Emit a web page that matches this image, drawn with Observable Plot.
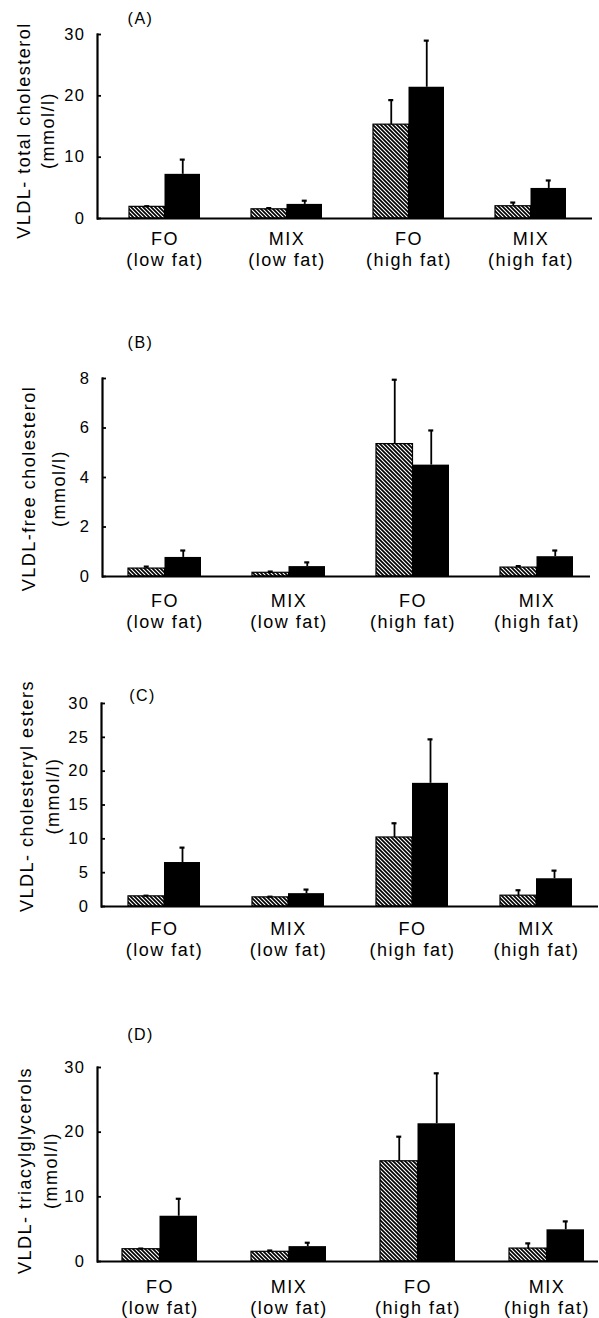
<!DOCTYPE html>
<html><head><meta charset="utf-8">
<script src="https://cdn.jsdelivr.net/npm/d3@7"></script>
<script src="https://cdn.jsdelivr.net/npm/@observablehq/plot@0.6"></script>
<style>
body{margin:0;background:#fff;}
#chart{position:relative;width:599px;height:1318px;overflow:hidden;background:#fff;}
#chart svg{position:absolute;left:0;}
</style></head><body>
<svg width="0" height="0" style="position:absolute"><defs>
<pattern id="hatch" patternUnits="userSpaceOnUse" width="4" height="4">
<rect width="4" height="4" fill="white"/>
<path d="M-1,-1L5,5M-1,3L1,5M3,-1L5,1" stroke="black" stroke-width="1.7"/>
</pattern></defs></svg>
<div id="chart"></div>
<script>
// ---- data ----
const groups = ["FO (low fat)", "MIX (low fat)", "FO (high fat)", "MIX (high fat)"];
const groupLabels = ["FO\n(low fat)", "MIX\n(low fat)", "FO\n(high fat)", "MIX\n(high fat)"];
const panelLetters = ["(A)", "(B)", "(C)", "(D)"];
const yLabels = [
  "VLDL- total cholesterol\n(mmol/l)",
  "VLDL-free cholesterol\n(mmol/l)",
  "VLDL- cholesteryl esters\n(mmol/l)",
  "VLDL- triacylglycerols\n(mmol/l)"
];
const yTicksA = [0, 10, 20, 30];
const yTicksB = [0, 2, 4, 6, 8];
const yTicksC = [0, 5, 10, 15, 20, 25, 30];
const yTicksD = [0, 10, 20, 30];

const hatchedA = [1.9, 1.5, 15.3, 2.0];
const hatchedErrA = [0.1, 0.2, 4.0, 0.6];
const blackA = [7.2, 2.3, 21.4, 4.9];
const blackErrA = [2.4, 0.6, 7.6, 1.3];

const hatchedB = [0.32, 0.15, 5.35, 0.36];
const hatchedErrB = [0.08, 0.05, 2.6, 0.06];
const blackB = [0.77, 0.4, 4.5, 0.8];
const blackErrB = [0.28, 0.17, 1.4, 0.25];

const hatchedC = [1.5, 1.35, 10.2, 1.6];
const hatchedErrC = [0.1, 0.1, 2.1, 0.8];
const blackC = [6.5, 1.9, 18.2, 4.1];
const blackErrC = [2.2, 0.6, 6.5, 1.2];

const hatchedD = [1.9, 1.5, 15.5, 2.0];
const hatchedErrD = [0.1, 0.2, 3.8, 0.8];
const blackD = [7.0, 2.3, 21.3, 4.9];
const blackErrD = [2.7, 0.6, 7.8, 1.3];

// ---- layout ----
const W = 599;
const panels = [
  {top: 0,   height: 300, mt: 34,  mb: 82, ml: 97,  mr: 7, L: 128, R: 566, w: 71,
   ticks: yTicksA, h: hatchedA, he: hatchedErrA, b: blackA, be: blackErrA,
   labDx: -63, labDy: 4, labLH: 1.35, letDx: 43, letDy: -16, xPad: 12},
  {top: 300, height: 330, mt: 78,  mb: 54, ml: 102, mr: 9, L: 127, R: 574, w: 73,
   ticks: yTicksB, h: hatchedB, he: hatchedErrB, b: blackB, be: blackErrB,
   labDx: -62, labDy: 11, labLH: 1.65, letDx: 38, letDy: -36, xPad: 16},
  {top: 630, height: 330, mt: 73,  mb: 54, ml: 101, mr: 1, L: 127, R: 572, w: 72,
   ticks: yTicksC, h: hatchedC, he: hatchedErrC, b: blackC, be: blackErrC,
   labDx: -63.5, labDy: -9, labLH: 1.4, letDx: 41, letDy: -8, xPad: 14},
  {top: 960, height: 358, mt: 107, mb: 57, ml: 97,  mr: 1, L: 122, R: 584, w: 75,
   ticks: yTicksD, h: hatchedD, he: hatchedErrD, b: blackD, be: blackErrD,
   labDx: -61.5, labDy: 6, labLH: 1.45, letDx: 43, letDy: -33, xPad: 17}
];

const chart = document.getElementById("chart");
panels.forEach((p, k) => {
  const x0 = p.ml, x1 = W - p.mr, n = groups.length;
  const step = (p.R - p.L - p.w) / (n - 1);
  const pi = 1 - p.w / step;
  const po = Math.max(0, ((x1 - x0) / step - (n - pi)) / 2);
  const align = (p.L - x0) / ((x1 - x0) - step * (n - pi));
  const w = p.w;
  const hatched = groups.map((g, i) => ({group: g, v: p.h[i], e: p.he[i]}));
  const black = groups.map((g, i) => ({group: g, v: p.b[i], e: p.be[i]}));
  const ymax = p.ticks[p.ticks.length - 1];
  const svg = Plot.plot({
    width: W, height: p.height,
    marginTop: p.mt, marginBottom: p.mb, marginLeft: p.ml, marginRight: p.mr,
    style: {fontFamily: "'Liberation Sans', Arial, Helvetica, sans-serif", letterSpacing: "1.5px", color: "black", background: "transparent", overflow: "visible"},
    x: {type: "band", domain: groups, paddingInner: pi, paddingOuter: po, align: Math.min(1, Math.max(0, align))},
    y: {domain: [0, ymax]},
    marks: [
      Plot.barY(hatched, {x: "group", y: "v", fill: "url(#hatch)", stroke: "black", strokeWidth: 1.2, insetRight: w / 2}),
      Plot.barY(black, {x: "group", y: "v", fill: "black", insetLeft: w / 2}),
      Plot.ruleX(hatched, {x: "group", y1: "v", y2: d => d.v + d.e, dx: -w / 4, strokeWidth: 1.8}),
      Plot.tickY(hatched, {x: "group", y: d => d.v + d.e, insetLeft: w / 4 - 2.5, insetRight: 3 * w / 4 - 2.5, strokeWidth: 2.2}),
      Plot.ruleX(black, {x: "group", y1: "v", y2: d => d.v + d.e, dx: w / 4, strokeWidth: 1.8}),
      Plot.tickY(black, {x: "group", y: d => d.v + d.e, insetLeft: 3 * w / 4 - 2.5, insetRight: w / 4 - 2.5, strokeWidth: 2.2}),
      Plot.ruleY([0], {strokeWidth: 2.2}),
      Plot.frame({anchor: "left", strokeWidth: 2.2}),
      Plot.axisY({ticks: p.ticks, tickSize: -4, tickPadding: 16, fontSize: 16.5, label: null, strokeWidth: 1.8}),
      Plot.axisX({tickSize: 0, tickPadding: p.xPad, fontSize: 18, lineHeight: 1.15, label: null,
                  tickFormat: d => groupLabels[groups.indexOf(d)]}),
      Plot.text([yLabels[k]], {text: d => d, frameAnchor: "left", rotate: -90, dx: p.labDx, dy: p.labDy,
                  fontSize: 18, lineHeight: p.labLH, textAnchor: "middle", lineAnchor: "middle"}),
      Plot.text([panelLetters[k]], {text: d => d, frameAnchor: "top-left", dx: p.letDx, dy: p.letDy,
                  fontSize: 16, textAnchor: "middle", lineAnchor: "middle"})
    ]
  });
  svg.style.top = p.top + "px";
  chart.appendChild(svg);
});
</script>
</body></html>
